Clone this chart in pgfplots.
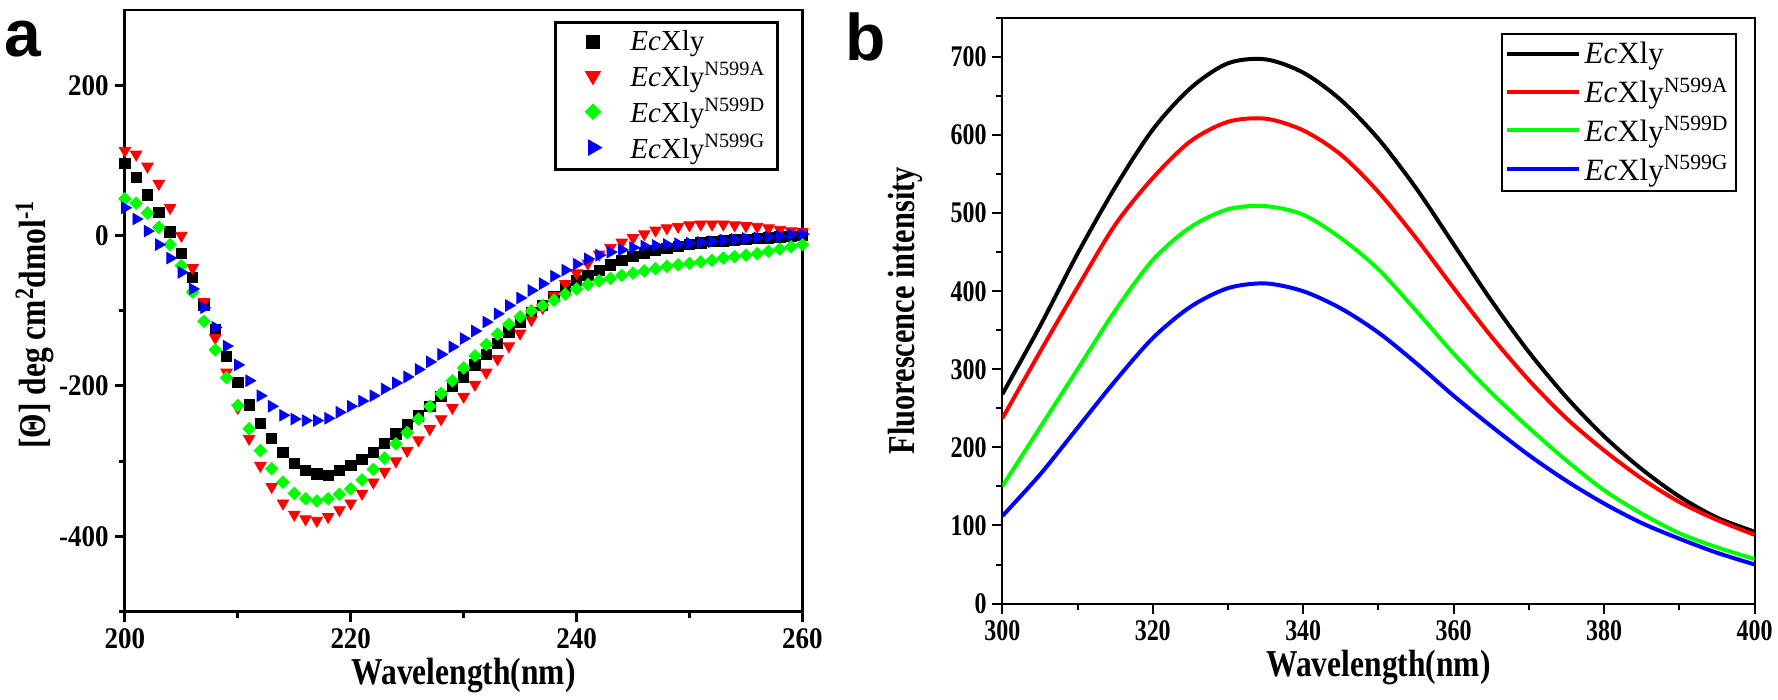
\documentclass[border=0pt]{standalone}
\usepackage{fontspec}
\setmainfont{Liberation Serif}
\newfontfamily\panelfont{Liberation Sans}
\usepackage{pgfplots}
\pgfplotsset{compat=1.18}

\definecolor{cdred}{RGB}{255,0,0}
\definecolor{cdgreen}{RGB}{0,255,0}
\definecolor{cdblue}{RGB}{0,0,255}

\pgfplotsset{
  panel/.style={
    anchor=south west, scale only axis,
    tick align=outside, tick pos=left,
    major tick length=5pt, minor tick length=3pt,
    /pgf/number format/assume math mode=true,
    ticklabel style={font=\bfseries\fontsize{15}{17}\selectfont},
    label style={font=\bfseries\fontsize{19}{22}\selectfont},
    legend cell align=left,
  },
}

\begin{document}
\begin{tikzpicture}
% page = 1778 x 697 px at 0.5pt per px
\path (0pt,0pt) rectangle (889pt,348.5pt);

% ---- a: CD spectra
\begin{axis}[panel,
  at={(62.5pt,42.5pt)}, width=339pt, height=301pt,
  xmin=200, xmax=260, ymin=-500, ymax=300,
  xtick={200,220,240,260}, minor xtick={210,230,250},
  ytick={-400,-200,0,200}, minor ytick={-500,-300,-100,100},
  ticklabel style={xscale=0.9},
  axis line style={line width=1.5pt},
  every tick/.style={black, line width=1.5pt},
  xlabel={\scalebox{0.83}[1]{Wavelength(nm)}},
  ylabel={\scalebox{0.83}[1]{[\textbf{Θ}] deg cm\textsuperscript{2}dmol\textsuperscript{-1}}},
  xlabel style={at={(axis description cs:0.5,0)}, anchor=center, yshift=-32pt},
  ylabel style={at={(axis description cs:-0.133,0.477)}, anchor=center},
  legend style={at={(0.965,0.982)}, anchor=north east, draw=black, line width=1.5pt,
    font=\fontsize{14.5}{17}\selectfont, row sep=0.5pt, inner xsep=4pt},
  legend image code/.code={\path (0pt,0pt) (30pt,0pt);
    \draw[#1, mark repeat=2, mark phase=2] plot coordinates {(0pt,0pt) (14pt,0pt) (28pt,0pt)};},
]
\addplot[only marks, mark=square*, mark size=2.6pt, black] coordinates {
(200,96) (201,77) (202,54) (203,31) (204,5) (205,-24) (206,-56) (207,-92) (208,-125) (209,-161)
(210,-195) (211,-225) (212,-250) (213,-270) (214,-288) (215,-303) (216,-312) (217,-317) (218,-319) (219,-312)
(220,-306) (221,-298) (222,-288) (223,-276) (224,-264) (225,-251) (226,-240) (227,-227) (228,-214) (229,-200)
(230,-188) (231,-172) (232,-158) (233,-143) (234,-128) (235,-115) (236,-102) (237,-93) (238,-81) (239,-71)
(240,-60) (241,-53) (242,-46) (243,-39) (244,-33) (245,-28) (246,-23) (247,-20) (248,-17) (249,-14)
(250,-12) (251,-10) (252,-8) (253,-7) (254,-6) (255,-5) (256,-4) (257,-3) (258,-2) (259,-1) (260,0)
};
\addlegendentry{\textit{Ec}Xly}
\addplot[only marks, mark=triangle*, mark size=3.3pt, mark options={rotate=180}, cdred] coordinates {
(200,113) (201,108) (202,92) (203,69) (204,37) (205,0) (206,-43) (207,-88) (208,-136) (209,-182)
(210,-229) (211,-270) (212,-306) (213,-334) (214,-356) (215,-371) (216,-377) (217,-379) (218,-374) (219,-365)
(220,-356) (221,-343) (222,-328) (223,-314) (224,-300) (225,-286) (226,-272) (227,-257) (228,-244) (229,-229)
(230,-214) (231,-198) (232,-182) (233,-164) (234,-147) (235,-130) (236,-112) (237,-96) (238,-80) (239,-64)
(240,-50) (241,-37) (242,-25) (243,-16) (244,-9) (245,-3) (246,2) (247,7) (248,10) (249,12)
(250,14) (251,15) (252,15) (253,15) (254,14) (255,13) (256,12) (257,10) (258,8) (259,6) (260,5)
};
\addlegendentry{\textit{Ec}Xly\textsuperscript{N599A}}
\addplot[only marks, mark=square*, mark size=2.2pt, mark options={rotate=45}, cdgreen] coordinates {
(200,49) (201,43) (202,30) (203,11) (204,-12) (205,-40) (206,-75) (207,-114) (208,-152) (209,-189)
(210,-226) (211,-257) (212,-286) (213,-310) (214,-328) (215,-343) (216,-350) (217,-353) (218,-350) (219,-344)
(220,-337) (221,-325) (222,-311) (223,-296) (224,-277) (225,-262) (226,-244) (227,-227) (228,-210) (229,-193)
(230,-176) (231,-160) (232,-145) (233,-131) (234,-118) (235,-108) (236,-100) (237,-93) (238,-86) (239,-78)
(240,-71) (241,-65) (242,-60) (243,-57) (244,-53) (245,-50) (246,-47) (247,-44) (248,-41) (249,-39)
(250,-37) (251,-35) (252,-33) (253,-30) (254,-28) (255,-26) (256,-24) (257,-21) (258,-18) (259,-15) (260,-12)
};
\addlegendentry{\textit{Ec}Xly\textsuperscript{N599D}}
\addplot[only marks, mark=triangle*, mark size=3.3pt, mark options={rotate=-90}, cdblue] coordinates {
(200,37) (201,22) (202,6) (203,-12) (204,-30) (205,-49) (206,-71) (207,-96) (208,-122) (209,-147)
(210,-172) (211,-193) (212,-213) (213,-227) (214,-239) (215,-244) (216,-246) (217,-246) (218,-243) (219,-235)
(220,-227) (221,-220) (222,-213) (223,-204) (224,-196) (225,-188) (226,-178) (227,-168) (228,-158) (229,-148)
(230,-137) (231,-127) (232,-115) (233,-104) (234,-93) (235,-83) (236,-73) (237,-64) (238,-54) (239,-46)
(240,-38) (241,-31) (242,-26) (243,-22) (244,-19) (245,-16) (246,-14) (247,-13) (248,-12) (249,-11)
(250,-10) (251,-9) (252,-8) (253,-6) (254,-5) (255,-4) (256,-3) (257,-2) (258,-1) (259,1) (260,2)
};
\addlegendentry{\textit{Ec}Xly\textsuperscript{N599G}}
\end{axis}

% ---- b: fluorescence spectra
\begin{axis}[panel,
  at={(501.5pt,46.5pt)}, width=376.5pt, height=293pt,
  xmin=300, xmax=400, ymin=0, ymax=750,
  xtick={300,320,...,400}, minor xtick={310,330,...,390},
  ytick={0,100,...,700}, minor ytick={50,150,...,750},
  ticklabel style={xscale=0.8},
  axis line style={line width=1pt},
  every tick/.style={black, line width=1pt},
  xlabel={\scalebox{0.83}[1]{Wavelength(nm)}},
  ylabel={\scalebox{0.8}[1]{Fluorescence intensity}},
  xlabel style={at={(axis description cs:0.5,0)}, anchor=center, yshift=-32pt},
  ylabel style={at={(axis description cs:-0.129,0.5)}, anchor=center},
  legend style={at={(0.976,0.974)}, anchor=north east, draw=black, line width=1pt,
    font=\fontsize{15.5}{18}\selectfont, row sep=1.5pt, inner xsep=1.5pt},
  legend image code/.code={\draw[#1] (0pt,0pt) -- (36pt,0pt);},
  every axis plot/.append style={line width=2pt, smooth},
]
\addplot[black] coordinates {
(300,268) (305,355) (310,448) (315,533) (320,607) (325,660) (330,692) (335,697) (340,680)
(345,645) (350,595) (355,532) (360,460) (365,388) (370,322) (375,264) (380,214) (385,172) (390,137) (395,110) (400,92)
};
\addlegendentry{\textit{Ec}Xly}
\addplot[cdred] coordinates {
(300,237) (305,322) (310,405) (315,485) (320,545) (325,592) (330,617) (335,621) (340,606)
(345,575) (350,527) (355,468) (360,404) (365,342) (370,286) (375,237) (380,196) (385,160) (390,130) (395,107) (400,88)
};
\addlegendentry{\textit{Ec}Xly\textsuperscript{N599A}}
\addplot[cdgreen] coordinates {
(300,150) (305,225) (310,300) (315,375) (320,440) (325,482) (330,505) (335,509) (340,498)
(345,468) (350,428) (355,375) (360,320) (365,270) (370,225) (375,183) (380,145) (385,115) (390,90) (395,72) (400,57)
};
\addlegendentry{\textit{Ec}Xly\textsuperscript{N599D}}
\addplot[cdblue] coordinates {
(300,112) (305,165) (310,225) (315,285) (320,340) (325,380) (330,404) (335,410) (340,400)
(345,378) (350,347) (355,308) (360,266) (365,227) (370,190) (375,157) (380,128) (385,103) (390,83) (395,65) (400,50)
};
\addlegendentry{\textit{Ec}Xly\textsuperscript{N599G}}
\end{axis}

\node[anchor=base west, inner sep=0pt, font=\panelfont\bfseries\fontsize{33}{33}\selectfont] at (2pt,320pt) {a};
\node[anchor=base west, inner sep=0pt, font=\panelfont\bfseries\fontsize{33}{33}\selectfont] at (423pt,318pt) {b};
\end{tikzpicture}
\end{document}
